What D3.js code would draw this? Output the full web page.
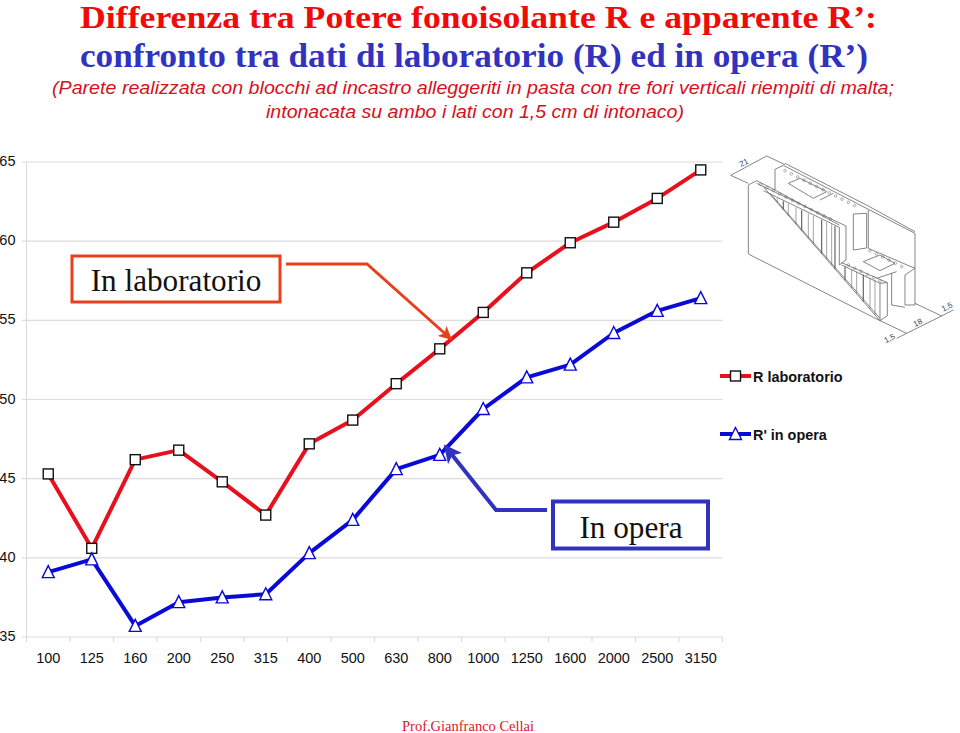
<!DOCTYPE html>
<html>
<head>
<meta charset="utf-8">
<script src="https://cdn.jsdelivr.net/npm/d3@7"></script>
<style>
html, body { margin: 0; padding: 0; background: #fff; }
svg { display: block; }
.tick-label { font-family: "Liberation Sans", Arial, sans-serif; font-size: 14.5px; fill: #111; }
.legend { font-family: "Liberation Sans", Arial, sans-serif; font-size: 14.4px; font-weight: bold; fill: #111; }
.serif { font-family: "Liberation Serif", "Times New Roman", serif; }
.sub { font-family: "Liberation Sans", Arial, sans-serif; font-style: italic; font-size: 19px; fill: #d8101c; }
</style>
</head>
<body>
<script>
var frequencies = ["100", "125", "160", "200", "250", "315", "400", "500", "630", "800", "1000", "1250", "1600", "2000", "2500", "3150"];
var rLab = [45.3, 40.6, 46.2, 46.8, 44.8, 42.7, 47.2, 48.7, 51.0, 53.2, 55.5, 58.0, 59.9, 61.2, 62.7, 64.5];
var rOpera = [39.1, 39.9, 35.7, 37.2, 37.5, 37.7, 40.3, 42.4, 45.6, 46.5, 49.4, 51.4, 52.2, 54.2, 55.6, 56.4];
var yTicks = [35, 40, 45, 50, 55, 60, 65];

var RED = "#e8101c";
var BLUE = "#0a0ad8";
var ORANGE = "#e8401c";
var INDIGO = "#3232c0";

var svg = d3.select("body").append("svg")
    .attr("width", 960)
    .attr("height", 733);

var x = d3.scaleBand().domain(frequencies).range([26.5, 722.5]);
var y = d3.scaleLinear().domain([35, 65]).range([637, 162]);
var cx = function (d) { return x(d) + x.bandwidth() / 2; };

function drawText() {
    svg.append("text").attr("class", "serif")
        .attr("x", 80).attr("y", 28)
        .attr("textLength", 797).attr("lengthAdjust", "spacingAndGlyphs")
        .attr("font-size", 31.6).attr("font-weight", "bold").attr("fill", "#f00a0a")
        .text("Differenza tra Potere fonoisolante R e apparente R’:");
    svg.append("text").attr("class", "serif")
        .attr("x", 80).attr("y", 67)
        .attr("textLength", 788).attr("lengthAdjust", "spacingAndGlyphs")
        .attr("font-size", 33.5).attr("font-weight", "bold").attr("fill", INDIGO)
        .text("confronto tra dati di laboratorio (R) ed in opera (R’)");
    svg.append("text").attr("class", "sub")
        .attr("x", 52).attr("y", 94)
        .attr("textLength", 842).attr("lengthAdjust", "spacingAndGlyphs")
        .text("(Parete realizzata con blocchi ad incastro alleggeriti in pasta con tre fori verticali riempiti di malta;");
    svg.append("text").attr("class", "sub")
        .attr("x", 266).attr("y", 118)
        .attr("textLength", 418).attr("lengthAdjust", "spacingAndGlyphs")
        .text("intonacata su ambo i lati con 1,5 cm di intonaco)");
    svg.append("text").attr("class", "serif")
        .attr("x", 402).attr("y", 731)
        .attr("font-size", 14.5).attr("fill", "#d8182c")
        .text("Prof.Gianfranco Cellai");
}

function drawAxes() {
    var grid = svg.append("g").attr("stroke", "#dcdcdc").attr("stroke-width", 1.2);
    yTicks.forEach(function (t) {
        grid.append("line")
            .attr("x1", 22).attr("x2", 722.5)
            .attr("y1", y(t)).attr("y2", y(t));
        svg.append("text").attr("class", "tick-label")
            .attr("x", 15.5).attr("y", y(t) + 4)
            .attr("text-anchor", "end")
            .text(t);
    });
    grid.append("line")
        .attr("x1", 26.5).attr("x2", 26.5)
        .attr("y1", y(65)).attr("y2", y(35));
    frequencies.forEach(function (f) {
        grid.append("line")
            .attr("x1", x(f)).attr("x2", x(f))
            .attr("y1", y(35)).attr("y2", y(35) + 5);
    });
    grid.append("line")
        .attr("x1", 722.5).attr("x2", 722.5)
        .attr("y1", y(35)).attr("y2", y(35) + 5);

    var ax = d3.axisBottom(x).tickSize(0).tickPadding(0);
    var g = svg.append("g")
        .attr("transform", "translate(0," + (y(35) + 16) + ")")
        .call(ax);
    g.select(".domain").remove();
    g.selectAll("text")
        .attr("class", "tick-label")
        .attr("font-size", null)
        .attr("font-family", null);
}

function square(g, px, py) {
    g.append("rect")
        .attr("x", px - 5).attr("y", py - 5)
        .attr("width", 10).attr("height", 10)
        .attr("fill", "#fff").attr("stroke", "#111").attr("stroke-width", 1.4);
}

function triangle(g, px, py) {
    g.append("path")
        .attr("d", "M" + px + "," + (py - 6.5) + "L" + (px + 6) + "," + (py + 5.5) + "L" + (px - 6) + "," + (py + 5.5) + "Z")
        .attr("fill", "#fff").attr("stroke", BLUE).attr("stroke-width", 1.4);
}

function drawSeries(values, color, marker) {
    var line = d3.line()
        .x(function (d, i) { return cx(frequencies[i]); })
        .y(function (d) { return y(d); });
    svg.append("path")
        .attr("d", line(values))
        .attr("fill", "none").attr("stroke", color)
        .attr("stroke-width", 4).attr("stroke-linejoin", "round");
    var g = svg.append("g");
    values.forEach(function (v, i) {
        marker(g, cx(frequencies[i]), y(v));
    });
}

function drawLegend() {
    var rows = [
        { label: "R laboratorio", color: RED, marker: square, y: 376 },
        { label: "R' in opera", color: BLUE, marker: triangle, y: 434 }
    ];
    rows.forEach(function (r) {
        svg.append("line")
            .attr("x1", 720).attr("x2", 751)
            .attr("y1", r.y).attr("y2", r.y)
            .attr("stroke", r.color).attr("stroke-width", 4);
        r.marker(svg, 735.5, r.y);
        svg.append("text").attr("class", "legend")
            .attr("x", 753).attr("y", r.y + 6)
            .text(r.label);
    });
}

function drawCallouts() {
    var defs = svg.append("defs");
    [["arrowOrange", ORANGE], ["arrowIndigo", INDIGO]].forEach(function (m) {
        defs.append("marker")
            .attr("id", m[0])
            .attr("viewBox", "0 0 10 10")
            .attr("refX", 9).attr("refY", 5)
            .attr("markerWidth", 4.5).attr("markerHeight", 4.5)
            .attr("orient", "auto")
            .append("path")
            .attr("d", "M0,0L10,5L0,10L2.5,5Z")
            .attr("fill", m[1]);
    });

    svg.append("rect")
        .attr("x", 72).attr("y", 256).attr("width", 208).attr("height", 46)
        .attr("fill", "#fff").attr("stroke", ORANGE).attr("stroke-width", 3);
    svg.append("text").attr("class", "serif")
        .attr("x", 176).attr("y", 291).attr("text-anchor", "middle")
        .attr("font-size", 31.2).attr("fill", "#111")
        .text("In laboratorio");
    svg.append("path")
        .attr("d", "M286,264L367,264L451,339")
        .attr("fill", "none").attr("stroke", ORANGE).attr("stroke-width", 3)
        .attr("marker-end", "url(#arrowOrange)");

    svg.append("rect")
        .attr("x", 553).attr("y", 501.5).attr("width", 155).attr("height", 47)
        .attr("fill", "#fff").attr("stroke", INDIGO).attr("stroke-width", 4);
    svg.append("text").attr("class", "serif")
        .attr("x", 631).attr("y", 538).attr("text-anchor", "middle")
        .attr("font-size", 31.2).attr("fill", "#111")
        .text("In opera");
    svg.append("path")
        .attr("d", "M547,510L496,510L445,446")
        .attr("fill", "none").attr("stroke", INDIGO).attr("stroke-width", 4)
        .attr("marker-end", "url(#arrowIndigo)");
}

// wall block sketch, in pixels of a 3x crop of that corner
function drawBlock() {
    var g = svg.append("g")
        .attr("transform", "translate(720,150) scale(0.3333)")
        .attr("fill", "none").attr("stroke", "#666").attr("stroke-width", 2.4);
    var shapes = [
        "M85,105L85,312L480,512",
        "M85,105L110,92L165,120",
        "M165,120L165,58L190,46L445,178L585,250L585,465",
        "M195,40L445,168L585,245",
        "M110,100L378,228L378,330L358,345L358,232L130,122",
        "M130,110L480,512L502,498L502,398L365,338",
        "M150,130L480,505",
        "M165,120L358,225",
        "M400,192L400,300L440,294L440,190L400,192",
        "M445,180L445,295L585,355",
        "M365,345L480,400L480,512",
        "M480,400L502,398",
        "M585,355L555,375L555,465L585,465",
        "M515,370L515,465L555,472",
        "M470,385L530,365",
        "M205,100L240,85L320,125L280,145Z",
        "M300,150L340,130",
        "M430,335L480,315L525,340L480,362Z",
        "M85,100L32,76M140,18L195,44M32,76L140,18",
        "M585,460L665,498M480,512L560,550M560,550L665,498",
        "M560,550L530,565M665,498L700,480"
    ];
    shapes.forEach(function (d) { g.append("path").attr("d", d); });

    var ribs = [172, 190, 205, 228, 245, 265, 280, 305, 320, 335, 345];
    ribs.forEach(function (rx, i) {
        g.append("line")
            .attr("x1", rx).attr("x2", rx)
            .attr("y1", 130 + (rx - 140) * 0.48)
            .attr("y2", 110 + (rx - 130) * 1.149)
            .attr("stroke-width", i % 3 == 1 ? 3.6 : 1.8);
    });
    [375, 395, 410, 430, 450, 465].forEach(function (rx, i) {
        g.append("line")
            .attr("x1", rx).attr("x2", rx)
            .attr("y1", 345 + (rx - 365) * 0.44)
            .attr("y2", 110 + (rx - 130) * 1.149)
            .attr("stroke-width", i % 3 == 0 ? 3.6 : 1.8);
    });
    for (var i = 0; i < 12; i++) {
        g.append("circle").attr("r", 4).attr("cx", 195 + i * 19).attr("cy", 62 + i * 9.5).attr("stroke-width", 1.5);
        g.append("circle").attr("r", 4).attr("cx", 122 + i * 19).attr("cy", 103 + i * 9.5).attr("stroke-width", 1.5);
    }
    for (var k = 0; k < 6; k++) {
        g.append("circle").attr("r", 4).attr("cx", 450 + k * 19).attr("cy", 302 + k * 9.5).attr("stroke-width", 1.5);
        g.append("circle").attr("r", 4).attr("cx", 385 + k * 19).attr("cy", 345 + k * 9.5).attr("stroke-width", 1.5);
    }
    [["21", 75, 45, -27], ["18", 597, 525, -27], ["1,5", 512, 572, -27], ["1,5", 685, 478, -27]].forEach(function (t) {
        g.append("text")
            .attr("transform", "translate(" + t[1] + "," + t[2] + ") rotate(" + t[3] + ")")
            .attr("text-anchor", "middle")
            .attr("font-family", "Liberation Sans")
            .attr("font-size", 24).attr("fill", "#444").attr("stroke", "none")
            .text(t[0]);
    });
}

drawText();
drawAxes();
drawBlock();
drawSeries(rLab, RED, square);
drawSeries(rOpera, BLUE, triangle);
drawCallouts();
drawLegend();
</script>
</body>
</html>
